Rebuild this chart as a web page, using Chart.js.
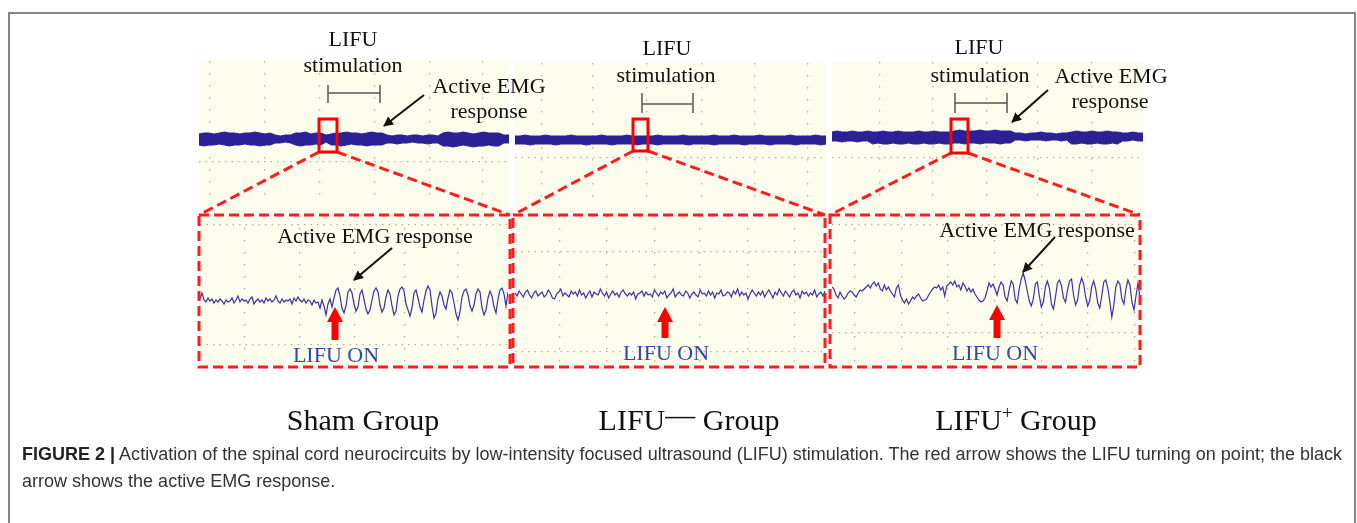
<!DOCTYPE html>
<html>
<head>
<meta charset="utf-8">
<script src="https://cdn.jsdelivr.net/npm/chart.js@4.4.0/dist/chart.umd.min.js"></script>
<style>
  html, body { margin:0; padding:0; background:#fff; width:1357px; height:523px; overflow:hidden; }
  .frame { position:absolute; left:8px; top:12px; width:1348px; height:560px; border:2px solid #858585; box-sizing:border-box; }
  .scope { position:absolute; background:#fdfdee; }
  canvas { position:absolute; }
  svg { position:absolute; left:0; top:0; }
  .caption { position:absolute; left:22px; top:441px; font-family:'Liberation Sans Narrow','Arial Narrow','Liberation Sans',sans-serif;
             font-size:17.5px; color:#333; line-height:27px; white-space:nowrap; transform-origin:0 0; }
  .caption b { color:#222; }
  .caption span { display:inline-block; }
</style>
</head>
<body>
<div class="frame"></div>

<div class="scope" style="left:199px;top:61px;width:310px;height:307px"></div>
<div class="scope" style="left:515px;top:63px;width:311px;height:305px"></div>
<div class="scope" style="left:832px;top:62px;width:311px;height:306px"></div>

<canvas id="shamTop" width="310" height="144" style="left:199px;top:61px"></canvas>
<canvas id="shamZoom" width="308" height="150" style="left:200px;top:216px"></canvas>
<canvas id="minusTop" width="311" height="142" style="left:515px;top:63px"></canvas>
<canvas id="minusZoom" width="310" height="150" style="left:515px;top:216px"></canvas>
<canvas id="plusTop" width="311" height="143" style="left:832px;top:62px"></canvas>
<canvas id="plusZoom" width="308" height="150" style="left:832px;top:216px"></canvas>

<svg width="1357" height="523" font-family="'Liberation Serif','Times New Roman',serif">
  <defs>
    <marker id="blk" viewBox="0 0 10 10" refX="9" refY="5" markerWidth="5" markerHeight="5" orient="auto">
      <path d="M0,0 L10,5 L0,10 z" fill="#111"/>
    </marker>
  </defs>
  <g fill="none" stroke="#ff1c1c" stroke-width="3" stroke-dasharray="10 5">
    <rect x="199" y="215" width="311" height="152"/>
    <rect x="513" y="215" width="312" height="152"/>
    <rect x="830" y="215" width="310" height="152"/>
    <line x1="319" y1="152" x2="199" y2="215"/>
    <line x1="337" y1="152" x2="510" y2="215"/>
    <line x1="633" y1="151" x2="513" y2="215"/>
    <line x1="648" y1="151" x2="825" y2="215"/>
    <line x1="951" y1="153" x2="830" y2="215"/>
    <line x1="968" y1="153" x2="1140" y2="215"/>
  </g>
  <g fill="none" stroke="#ff0000" stroke-width="3">
    <rect x="319" y="119" width="18" height="33"/>
    <rect x="633" y="119" width="15" height="32"/>
    <rect x="951" y="119" width="17" height="34"/>
  </g>
  <g fill="none" stroke="#555" stroke-width="1.5">
    <path d="M328,93 H380 M328,85 V103 M380,85 V103"/>
    <path d="M642,104 H693 M642,93 V113 M693,93 V113"/>
    <path d="M955,103 H1007 M955,93 V113 M1007,93 V113"/>
  </g>
  <g stroke="#111" stroke-width="2" marker-end="url(#blk)">
    <line x1="424" y1="95" x2="384" y2="126"/>
    <line x1="392" y1="248" x2="354" y2="280"/>
    <line x1="1048" y1="90" x2="1012" y2="122"/>
    <line x1="1055" y1="237" x2="1023" y2="272"/>
  </g>
  <g fill="#ff0000">
    <path d="M335,307 L343,322 L338.5,322 L338.5,340 L331.5,340 L331.5,322 L327,322 z"/>
    <path d="M665,307 L673,322 L668.5,322 L668.5,338 L661.5,338 L661.5,322 L657,322 z"/>
    <path d="M997,305 L1005,320 L1000.5,320 L1000.5,338 L993.5,338 L993.5,320 L989,320 z"/>
  </g>
  <g font-size="22" fill="#111" text-anchor="middle">
    <text x="353" y="46">LIFU</text>
    <text x="353" y="72">stimulation</text>
    <text x="667" y="55">LIFU</text>
    <text x="666" y="82">stimulation</text>
    <text x="979" y="54">LIFU</text>
    <text x="980" y="82">stimulation</text>
    <text x="489" y="93">Active EMG</text>
    <text x="489" y="118">response</text>
    <text x="1111" y="83">Active EMG</text>
    <text x="1110" y="108">response</text>
    <text x="375" y="243">Active EMG response</text>
    <text x="1037" y="237">Active EMG response</text>
  </g>
  <g font-size="22" fill="#3446a6" text-anchor="middle">
    <text x="336" y="362">LIFU ON</text>
    <text x="666" y="360">LIFU ON</text>
    <text x="995" y="360">LIFU ON</text>
  </g>
  <g font-size="30" fill="#111" text-anchor="middle">
    <text x="363" y="430">Sham Group</text>
    <text x="689" y="430">LIFU<tspan dy="-5">—</tspan><tspan dy="5"> Group</tspan></text>
    <text x="1016" y="430">LIFU<tspan font-size="19" dy="-11">+</tspan><tspan dy="11"> Group</tspan></text>
  </g>
</svg>

<div class="caption" id="caption">
  <span id="capLine1"><b>FIGURE 2 |</b> Activation of the spinal cord neurocircuits by low-intensity focused ultrasound (LIFU) stimulation. The red arrow shows the LIFU turning on point; the black</span><br>
  <span>arrow shows the active EMG response.</span>
</div>

<script>
// overview traces (thick band): upper and lower envelope, offset from baseline
var shamBandUpper = [5,6,6,5,6,7,6,6,5,6,6,7,6,5,6, 4,3,4,4, 6,6,7,5,6,6, 4, 5,6,6,7,6,6,5,6,7,6,6, 4,3,4,4,3,4,4,3,4,4,3, 6,7,6,6,7,6,5,6,7,6,6,6, 4,4];
var shamBandLower = [-6,-7,-6,-6,-5,-6,-7,-6,-6,-5,-6,-6,-7,-6,-6, -4,-4,-3,-4, -6,-7,-6,-6,-5,-6, -3, -6,-6,-7,-6,-5,-6,-6,-7,-6,-6,-6, -4,-4,-5,-4,-4,-3,-4,-4,-5,-4,-4, -7,-7,-8,-7,-6,-7,-8,-7,-7,-6,-7,-7, -4,-4];

var minusBandUpper = [4,4,5,4,4,4,5,4,4,4,4,5,4,4,4,4,4,5,4,4,4,4,5,4,4,4,4,4,5,4,4,4,4,5,4,4,4,4,4,5,4,4,4,5,4,4,4,4,5,4,4,4,4,4,5,4,4,4,4,5,4,4];
var minusBandLower = [-4,-4,-4,-5,-4,-4,-4,-4,-5,-4,-4,-4,-4,-4,-5,-4,-4,-4,-4,-5,-4,-4,-4,-4,-5,-4,-4,-4,-5,-4,-4,-4,-4,-4,-5,-4,-4,-4,-4,-5,-4,-4,-4,-4,-4,-5,-4,-4,-4,-4,-5,-4,-4,-4,-4,-5,-4,-4,-4,-4,-5,-4];

var plusBandUpper = [5,6,5,5,6,5,5,6, 5,5,6,5,5,6,5,5,5,6,5,5,6,5,5,5, 6,7,6,6, 6,7,6,6,7,6,6,6, 4,4,3,4,4,5,4,4,3,4,4, 5,6,5,5,6,5,5,6,5,5, 4,4,5,4,4];
var plusBandLower = [-4,-4,-5,-4,-4,-5,-4,-4, -7,-6,-7,-7,-6,-7,-7,-6,-7,-7,-6,-7,-7,-6,-7,-7, -6,-6,-7,-6, -6,-7,-6,-6,-6,-7,-6,-6, -3,-3,-4,-3,-3,-3,-4,-3,-3,-4,-3, -7,-7,-6,-7,-7,-6,-7,-7,-6,-7, -4,-4,-3,-4,-4];

// zoomed EMG traces, before and after LIFU turns on
var shamBefore = [3,9,2,0,4,1,3,-1,2,0,3,1,-2,2,0,1,4,-1,2,6,0,3,1,2,-1,3,5,-2,1,3,0,2,-1,4,1,3,0,2,6,1,-1,3,0,2,1,3,-2,4,1,5,2,0,3,-1,2,1,-3,2,-1,0,-6,2,-4,-13,-2,3,-5];
var shamAfter = [4,12,14,6,-6,-11,-4,10,13,9,-2,-9,-5,8,12,3,-7,-12,-8,2,11,14,10,-3,-10,-6,5,12,8,-4,-13,-9,6,13,15,11,-2,-8,-14,-6,9,12,4,-5,-10,2,11,16,12,-4,-16,-11,3,10,6,-3,-7,4,12,9,-1,-12,-18,-10,5,11,13,7,-4,-9,-3,8,13,10,-6,-13,-8,4,11,6,-5,-11,3,12,14,8,-4,10];

var minusTrace = [2,-1,4,1,-2,3,5,0,-3,2,4,-1,1,3,-2,0,5,2,-3,-4,1,3,6,-1,2,0,-2,4,1,3,-1,5,0,2,-3,1,4,-2,3,1,
  0,6,2,-1,3,-3,1,4,0,2,-2,3,5,1,-1,2,0,3,-4,1,
  2,4,-1,3,0,1,-2,5,2,-1,3,1,4,-3,0,2,6,-2,1,3,
  0,-1,4,2,-3,1,3,0,-2,5,1,2,-1,4,0,3,-3,2,1,5,
  -1,0,3,2,-2,4,1,6,-1,3,0,2,-4,1,5,2,-1,3,0,4,
  -2,2,5,1,-3,3,0,6,2,-1,4,1,-2,3,5,0,2,-3,4,1,
  3,-1,2,0,5,-2,1,3,-1,4];

var plusBefore = [6,4,-2,-5,1,-3,-6,-4,0,2,1,-2,-4,0,3,2,4,6,8,5,9,11,7,10,4,2,8,3,6,2,-1,-4,5,8,-2,-7,-10,-6,-11,-8,-4,-6,-3,-1,-5,-8,-7,-6,-2,1,4,6,5,8,3,6,-3,7,9,11,8,12,6,8,3,10,7,2,5,1,4,-1,-4,-7,-9,-8,-5,2,10,6,9,4];
var plusAfter = [-2,6,11,8,-4,-8,3,12,9,-6,-10,4,14,20,12,2,-8,-13,-6,9,11,-3,-14,-9,6,12,5,-11,-16,-4,10,13,7,-5,-9,3,12,14,-2,-12,-7,8,15,9,-4,-13,-8,6,12,4,-10,-15,-3,11,13,5,-8,-24,-12,6,12,9,-6,-11,4,13,8,-9,-17,-3,10,-5];

var bandColor = '#2b2096';
var traceColor = '#3d30a8';
var gridColor = '#b4b4a6';

function pts(arr) {
  return arr.map(function (v, i) { return { x: i, y: v }; });
}

function bandSets(upper, lower) {
  return [
    { data: pts(upper), borderColor: bandColor, borderWidth: 1, fill: false },
    { data: pts(lower), borderColor: bandColor, borderWidth: 1, fill: '-1', backgroundColor: bandColor }
  ];
}

function traceSets(values) {
  return [{ data: pts(values), borderColor: traceColor, borderWidth: 1.2, fill: false }];
}

function makeScope(id, datasets, count, yRange, vLines, hLines) {
  return new Chart(document.getElementById(id), {
    type: 'line',
    data: { datasets: datasets },
    options: {
      responsive: false,
      animation: false,
      devicePixelRatio: 1,
      layout: { padding: 0 },
      elements: { point: { radius: 0 }, line: { tension: 0 } },
      plugins: { legend: { display: false }, tooltip: { enabled: false } },
      scales: {
        x: {
          type: 'linear', min: 0, max: count - 1,
          afterBuildTicks: function (s) { s.ticks = vLines.map(function (f) { return { value: f * (count - 1) }; }); },
          afterFit: function (s) { s.height = 0; },
          ticks: { display: false },
          grid: { color: gridColor, lineWidth: 1.3, drawTicks: false },
          border: { display: false, dash: [1.5, 10.5] }
        },
        y: {
          type: 'linear', min: yRange[0], max: yRange[1],
          afterBuildTicks: function (s) { s.ticks = hLines.map(function (v) { return { value: v }; }); },
          afterFit: function (s) { s.width = 0; },
          ticks: { display: false },
          grid: { color: gridColor, lineWidth: 1.3, drawTicks: false },
          border: { display: false, dash: [1.5, 5] }
        }
      }
    }
  });
}

var shamTrace = shamBefore.concat(shamAfter);
var plusTrace = plusBefore.concat(plusAfter);

makeScope('shamTop', bandSets(shamBandUpper, shamBandLower), shamBandUpper.length, [-66, 78],
  [0.035, 0.213, 0.39, 0.568, 0.745, 0.916], [-23]);
makeScope('shamZoom', traceSets(shamTrace), shamTrace.length, [-64, 86],
  [0.146, 0.325, 0.503, 0.666, 0.838], [77, -43]);

makeScope('minusTop', bandSets(minusBandUpper, minusBandLower), minusBandUpper.length, [-65, 77],
  [0.087, 0.251, 0.424, 0.601, 0.772, 0.942], [-18]);
makeScope('minusZoom', traceSets(minusTrace), minusTrace.length, [-71, 79],
  [0.145, 0.297, 0.452, 0.597, 0.752, 0.903], [43, -57]);

makeScope('plusTop', bandSets(plusBandUpper, plusBandLower), plusBandUpper.length, [-68, 75],
  [0.154, 0.325, 0.498, 0.662, 0.836], [-21]);
makeScope('plusZoom', traceSets(plusTrace), plusTrace.length, [-73, 77],
  [0.075, 0.227, 0.377, 0.529, 0.682, 0.831, 0.984], [68, -40]);

// squeeze the caption to the width it has in the figure
var line1 = document.getElementById('capLine1');
var k = 1320 / line1.getBoundingClientRect().width;
document.getElementById('caption').style.transform = 'scaleX(' + k + ')';
</script>
</body>
</html>
